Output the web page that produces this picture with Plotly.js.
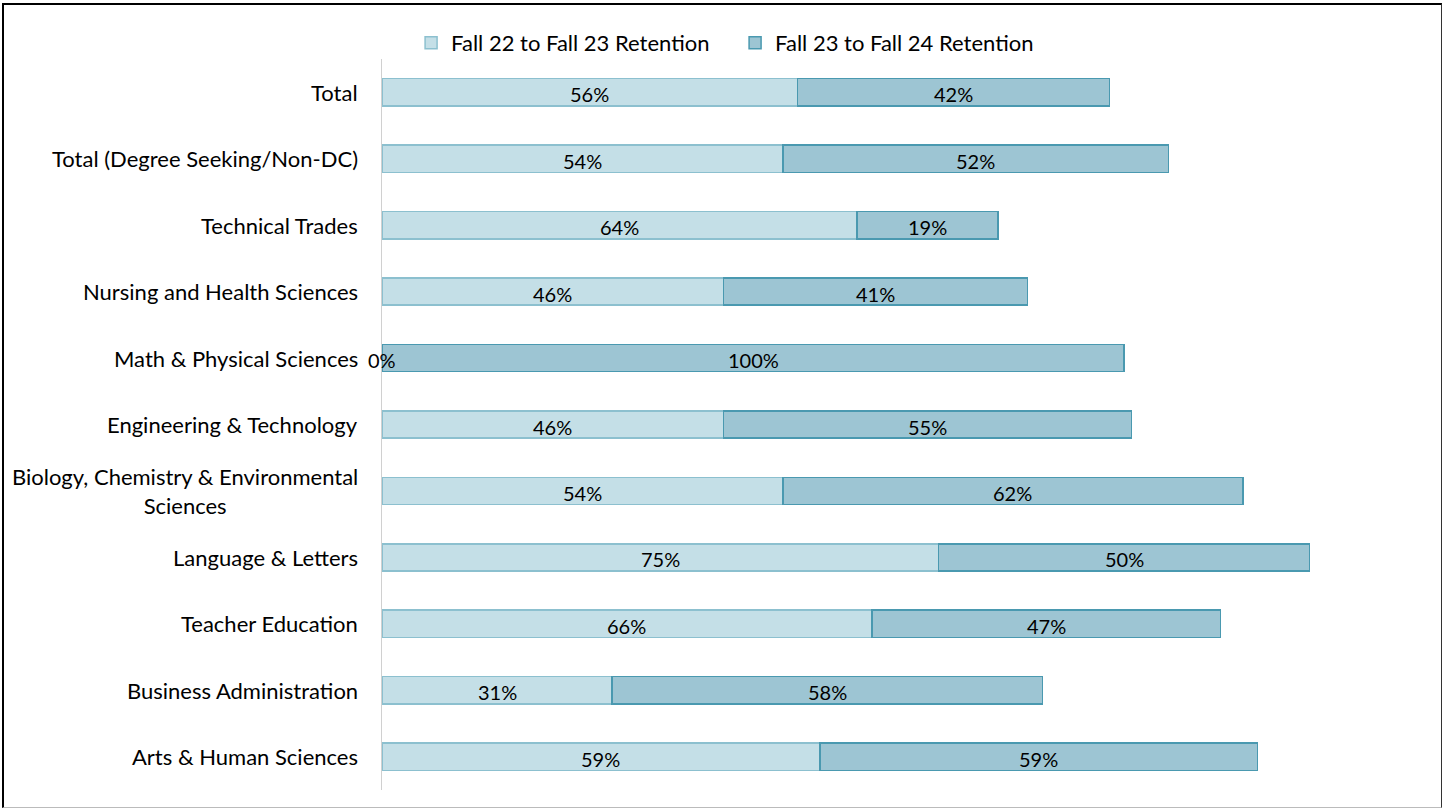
<!DOCTYPE html>
<html>
<head>
<meta charset="utf-8">
<script src="https://cdn.plot.ly/plotly-3.0.1.min.js"></script>
<style>
html,body{margin:0;padding:0;background:#fff;}
#frame{position:absolute;left:2px;top:3px;width:1437px;height:802px;border-top:2px solid #000;border-left:2px solid #000;border-right:1px solid #333;border-bottom:1px solid #bbb;}
#chart{position:absolute;left:0;top:0;width:1442px;height:808px;}
</style>
</head>
<body>
<div id="frame"></div>
<div id="chart"></div>
<script>
const categories = [
  "Total",
  "Total (Degree Seeking/Non-DC)",
  "Technical Trades",
  "Nursing and Health Sciences",
  "Math & Physical Sciences",
  "Engineering & Technology",
  "Biology, Chemistry & Environmental<br>Sciences",
  "Language & Letters",
  "Teacher Education",
  "Business Administration",
  "Arts & Human Sciences"
];
const fall22 = [56, 54, 64, 46, 0, 46, 54, 75, 66, 31, 59];
const fall23 = [42, 52, 19, 41, 100, 55, 62, 50, 47, 58, 59];
const seriesNames = ["Fall 22 to Fall 23 Retention", "Fall 23 to Fall 24 Retention"];

const FONT = "Lato, 'Open Sans', sans-serif";

const traces = [
  {
    type: "bar", orientation: "h", name: seriesNames[0],
    y: categories, x: fall22,
    marker: {color: "#c4dfe7", line: {color: "#8cc0cf", width: 1.5}},
    hoverinfo: "x+y"
  },
  {
    type: "bar", orientation: "h", name: seriesNames[1],
    y: categories, x: fall23,
    marker: {color: "#9dc5d3", line: {color: "#4a99b0", width: 1.5}},
    hoverinfo: "x+y"
  }
];

const annotations = [];
categories.forEach((c, i) => {
  annotations.push({
    xref: "paper", yref: "y", x: 0, y: c, xanchor: "right", yanchor: "middle",
    xshift: -22, text: c, showarrow: false, align: "center",
    font: {family: FONT, size: 22, color: "#000"}
  });
  annotations.push({
    xref: "x", yref: "y", x: fall22[i] / 2, y: c, yshift: -2,
    text: fall22[i] + "%", showarrow: false,
    font: {family: FONT, size: 20, color: "#000"}
  });
  annotations.push({
    xref: "x", yref: "y", x: fall22[i] + fall23[i] / 2, y: c, yshift: -2,
    text: fall23[i] + "%", showarrow: false,
    font: {family: FONT, size: 20, color: "#000"}
  });
});

const layout = {
  width: 1442, height: 808,
  paper_bgcolor: "rgba(0,0,0,0)", plot_bgcolor: "rgba(0,0,0,0)",
  margin: {l: 382, r: 21, t: 59, b: 18},
  barmode: "stack",
  bargap: 0.59,
  showlegend: true,
  legend: {
    orientation: "h", x: 0.028, y: 1.022, xanchor: "left", yanchor: "middle",
    font: {family: FONT, size: 22, color: "#000"},
    itemwidth: 30, traceorder: "normal",
    entrywidth: 279, entrywidthmode: "pixels"
  },
  xaxis: {range: [0, 140], showgrid: false, zeroline: false, showticklabels: false, showline: false, fixedrange: true},
  yaxis: {
    type: "category", autorange: "reversed", showticklabels: false,
    showline: true, linecolor: "#d0d0d0", linewidth: 1.5, showgrid: false, zeroline: false, ticks: ""
  },
  annotations: annotations,
  font: {family: FONT}
};

Plotly.newPlot("chart", traces, layout, {displayModeBar: false, staticPlot: true});
</script>
</body>
</html>
